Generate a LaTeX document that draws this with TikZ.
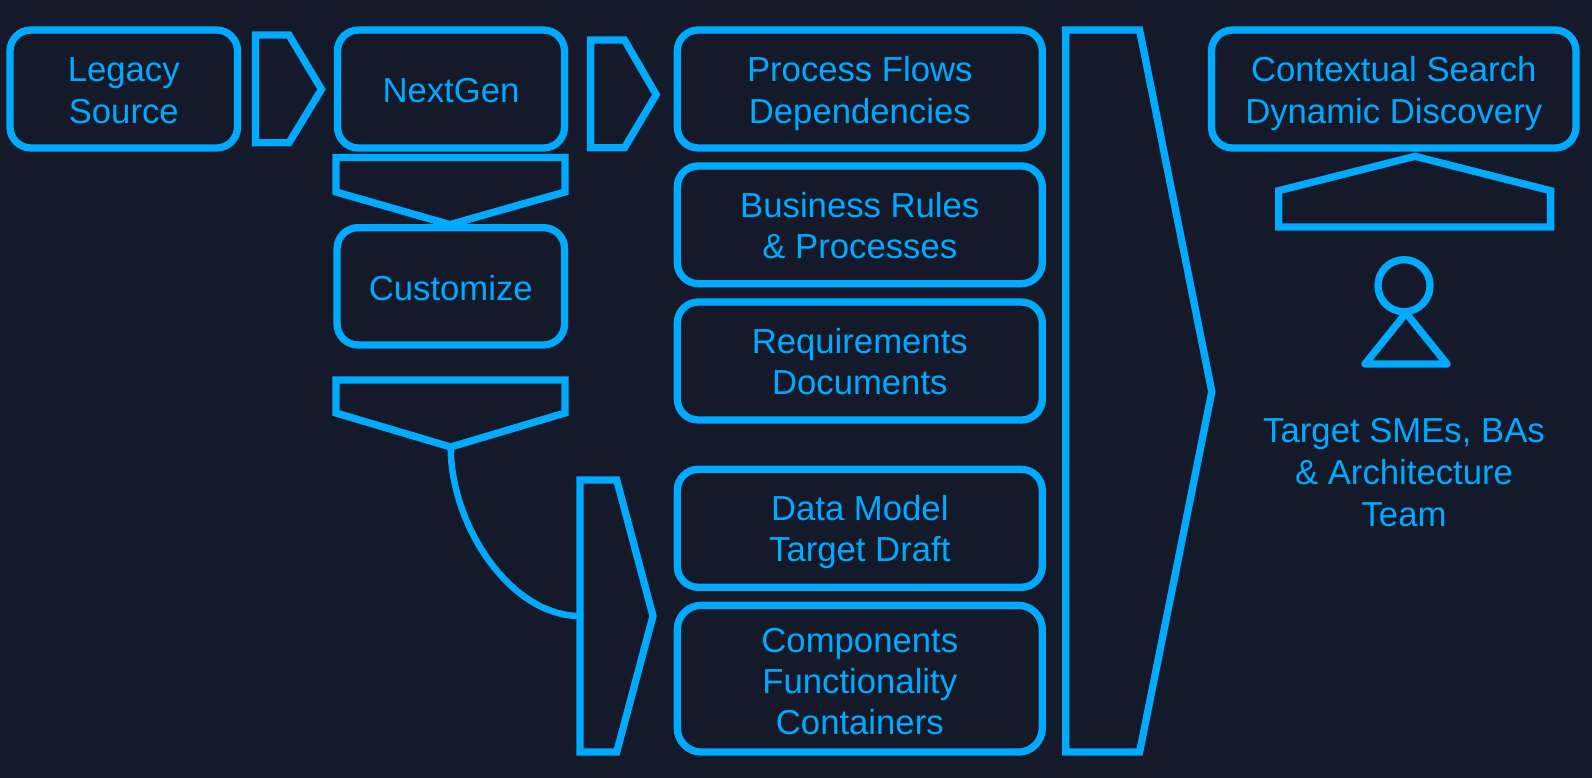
\documentclass[tikz,border=0pt]{standalone}
\usepackage{fontspec}
\setmainfont{Liberation Sans}
\definecolor{bgc}{HTML}{141A29}
\definecolor{linec}{HTML}{00AAFF}
\newcommand\tstr{\rule{0pt}{41.2pt}}
\newcommand\tstrlow{\rule{0pt}{44pt}}
\newcommand\bstr{\rule[-15pt]{0pt}{15pt}}
\tikzset{
  base/.style={draw=linec,line width=7.3pt},
  box/.style={base,rounded corners=21pt,inner sep=0pt,text=linec,align=center,
    font=\fontsize{34.7}{41}\selectfont},
  wide/.style={font=\fontsize{34.7}{42}\selectfont},
  arrowshape/.style={base,line join=miter},
  person/.style={base,line join=round},
  curveline/.style={draw=linec,line width=6.5pt},
  label/.style={inner sep=0pt,text=linec,align=center,font=\fontsize{34.7}{42}\selectfont},
}
\begin{document}
\begin{tikzpicture}[x=1pt,y=-1pt]
\useasboundingbox (0,0) rectangle (1592,778);
\fill[bgc] (0,0) rectangle (1592,778);
% boxes
\node[box,wide,minimum width=227.5pt,minimum height=118pt] (legacy) at (123.75,89) {\tstr Legacy\\Source\bstr};
\node[box,minimum width=227pt,minimum height=118pt] (nextgen) at (451,89) {\tstr NextGen\bstr};
\node[box,minimum width=227.5pt,minimum height=117.3pt] (custom) at (450.8,286.3) {\tstrlow Customize\bstr};
\node[box,wide,minimum width=365pt,minimum height=118pt] (flows) at (859.8,89) {\tstr Process Flows\\Dependencies\bstr};
\node[box,minimum width=365pt,minimum height=117.7pt] (rules) at (859.8,224.8) {\tstr Business Rules\\\& Processes\bstr};
\node[box,minimum width=365pt,minimum height=118pt] (reqs) at (859.8,361) {\tstr Requirements\\Documents\bstr};
\node[box,minimum width=365pt,minimum height=118pt] (model) at (859.8,528.3) {\tstr Data Model\\Target Draft\bstr};
\node[box,rounded corners=24pt,minimum width=365pt,minimum height=146.7pt] (comps) at (859.8,678.7) {\tstrlow Components\\Functionality\\Containers\bstr};
\node[box,wide,minimum width=364.5pt,minimum height=118pt] (search) at (1393.75,89) {\tstr Contextual Search\\Dynamic Discovery\bstr};
\node[label] (team) at (1404,470.9) {\tstr Target SMEs, BAs\\\& Architecture\\Team\bstr};
% arrows
\draw[arrowshape] (255.4,35) -- (289,35) -- (321.5,89.3) -- (289,142.7) -- (255.4,142.7) -- cycle;
\draw[arrowshape] (590.6,40) -- (624.5,40) -- (656.2,94.7) -- (624.5,147.7) -- (590.6,147.7) -- cycle;
\draw[arrowshape] (336,157.5) -- (565,157.5) -- (565,192) -- (450,224.6) -- (336,192) -- cycle;
\coordinate (dtip) at (450.7,447);
\draw[arrowshape] (336,380) -- (565,380) -- (565,413) -- (dtip) -- (336,413) -- cycle;
\coordinate (rwest) at (580,616);
\draw[arrowshape] (580,480) -- (616.7,480) -- (653,616) -- (616.7,752) -- (580,752) -- cycle;
\draw[arrowshape] (1065.7,30) -- (1139.6,30) -- (1211.8,391.7) -- (1139.6,752) -- (1065.7,752) -- cycle;
\draw[arrowshape] (1278.7,227) -- (1278.7,190.7) -- (1415,156.3) -- (1550.6,190.7) -- (1550.6,227) -- cycle;
% connector
\draw[curveline] (dtip) .. controls (450.7,525) and (510,616) .. (rwest);
% person
\draw[person] (1404,285.7) circle (26);
\draw[person] (1406,313) -- (1447,364) -- (1365,364) -- cycle;
\end{tikzpicture}
\end{document}
